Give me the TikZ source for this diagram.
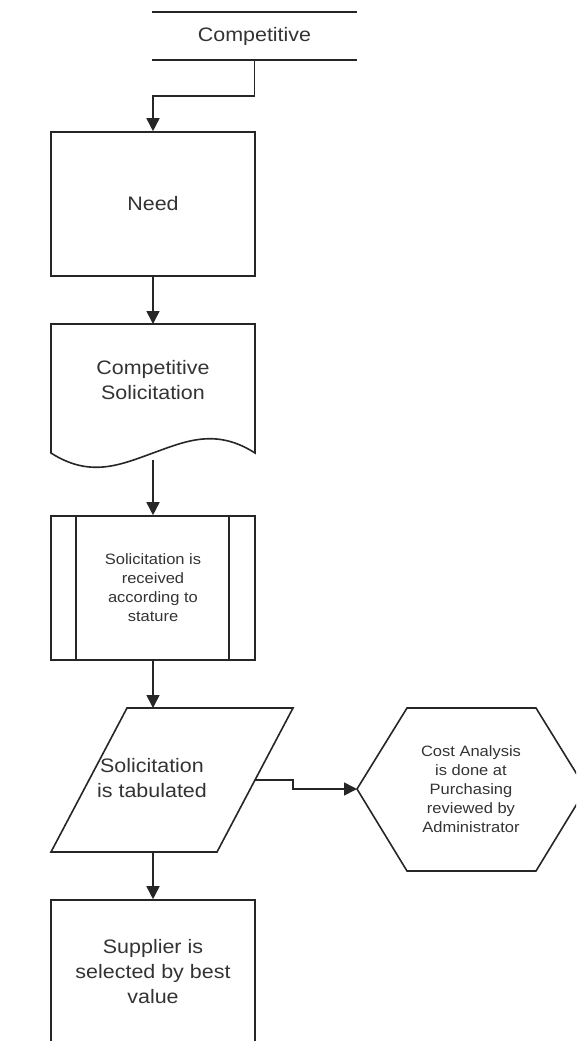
\documentclass[tikz,border=0pt]{standalone}
\usepackage{fontspec}
\setmainfont{Liberation Sans}[FakeStretch=1.1]
\usetikzlibrary{arrows.meta}
\definecolor{inkline}{HTML}{262626}
\definecolor{inktext}{HTML}{333333}
\tikzset{
  shapeline/.style={draw=inkline, line width=1.6pt, line join=miter},
  flow/.style={draw=inkline, line width=1.6pt, -{Triangle[length=13pt,width=13pt]}},
  bigtext/.style={text=inktext, align=center, font=\fontsize{19.5}{25}\selectfont},
  smalltext/.style={text=inktext, align=center, font=\fontsize{15}{19}\selectfont},
  boxshape/.style={shapeline, rectangle, minimum width=204pt, minimum height=144pt, inner sep=0pt},
}
\begin{document}
\begin{tikzpicture}[x=1pt,y=-1pt]
  \useasboundingbox (0,0) rectangle (576,1041);
  \clip (0,0) rectangle (576,1041);

  % header band
  \node (hdr) [bigtext, minimum width=205pt, minimum height=48pt, inner sep=0pt] at (254.5,36) {Competitive};
  \draw[shapeline] (hdr.north west) -- (hdr.north east);
  \draw[shapeline] (hdr.south west) -- (hdr.south east);

  % need
  \node (need) [boxshape, bigtext] at (153,204) {Need};

  % document shape with wavy bottom
  \draw[shapeline] (51,324) -- (255,324) -- (255,453)
     .. controls (216,428) and (186,441) .. (153,453)
     .. controls (120,465) and (90,478) .. (51,453) -- cycle;
  \node (doc) [bigtext] at (153,380) {Competitive\\Solicitation};
  \coordinate (docN) at (153,324);
  \coordinate (docS) at (153,460);

  % predefined process
  \node (proc) [boxshape, smalltext] at (153,588) {Solicitation is\\received\\according to\\stature};
  \draw[shapeline] (76,516) -- (76,660);
  \draw[shapeline] (229,516) -- (229,660);

  % data (parallelogram)
  \draw[shapeline] (127,708) -- (293,708) -- (217,852) -- (51,852) -- cycle;
  \node (para) [bigtext] at (152,778) {Solicitation\\is tabulated};
  \coordinate (paraN) at (153,708);
  \coordinate (paraS) at (153,852);
  \coordinate (paraE) at (255,780);

  % preparation (hexagon)
  \draw[shapeline] (357,789) -- (407,708) -- (536,708) -- (586,789) -- (536,871) -- (407,871) -- cycle;
  \node (hex) [smalltext] at (471,789) {Cost Analysis\\is done at\\Purchasing\\reviewed by\\Administrator};
  \coordinate (hexW) at (357,789);

  % supplier selection
  \node (supp) [boxshape, bigtext] at (153,972) {Supplier is\\selected by best\\value};

  % connectors
  \draw[flow] (hdr.south) -- ++(0,36) -| (need.north);
  \draw[flow] (need.south) -- (docN);
  \draw[flow] (docS) -- (proc.north);
  \draw[flow] (proc.south) -- (paraN);
  \draw[flow] (paraS) -- (supp.north);
  \draw[flow] (paraE) -- (293,780) -- (293,789) -- (hexW);
\end{tikzpicture}
\end{document}
